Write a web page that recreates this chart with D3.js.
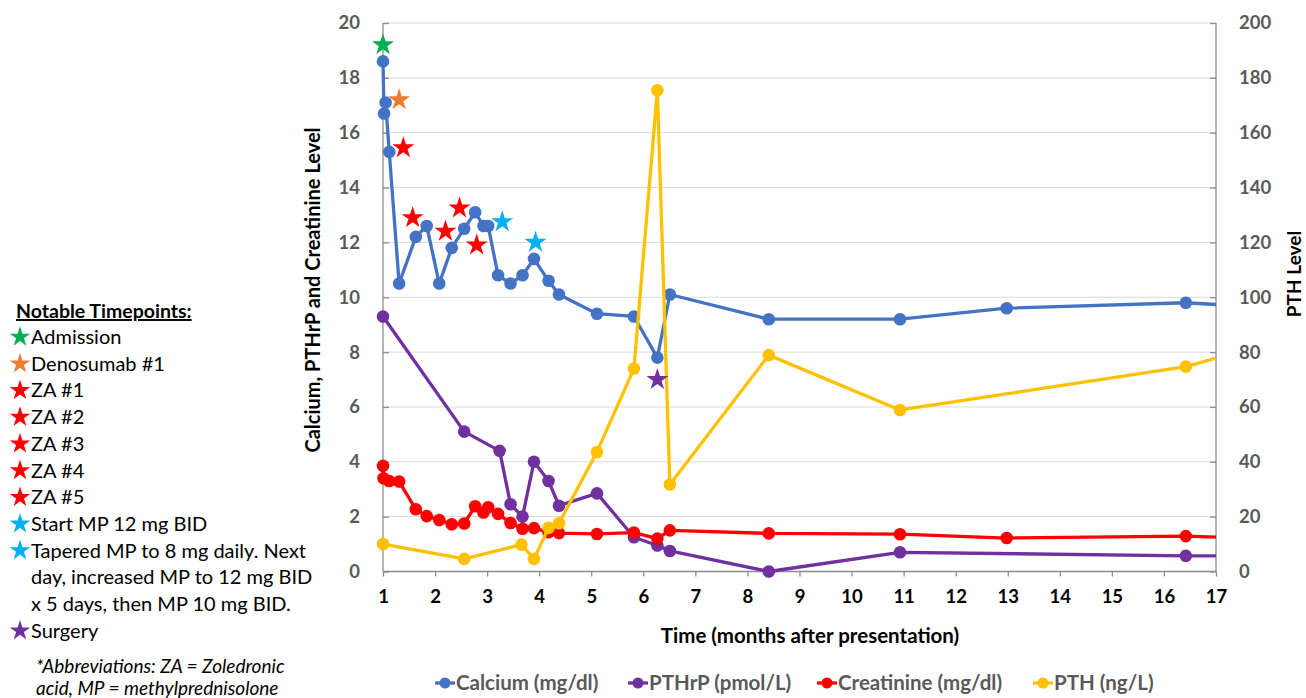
<!DOCTYPE html>
<html>
<head>
<meta charset="utf-8">
<script src="https://cdn.jsdelivr.net/npm/d3@7"></script>
<style>
  html, body { margin: 0; padding: 0; background: #fff; }
  svg { display: block; }
</style>
</head>
<body>
<svg id="chart" width="1306" height="698"></svg>
<script>
// ---------------- DATA ----------------
const calciumX = [1.00, 1.02, 1.05, 1.12, 1.31, 1.63, 1.84, 2.08, 2.32, 2.56, 2.77, 2.93, 3.02, 3.21, 3.45, 3.68, 3.90, 4.18, 4.38, 5.11, 5.82, 6.27, 6.51, 8.41, 10.93, 12.98, 16.42, 17.6];
const calciumY = [18.6, 16.7, 17.1, 15.3, 10.5, 12.2, 12.6, 10.5, 11.8, 12.5, 13.1, 12.6, 12.6, 10.8, 10.5, 10.8, 11.4, 10.6, 10.1, 9.4, 9.3, 7.8, 10.1, 9.2, 9.2, 9.6, 9.8, 9.67];

const pthrpX = [1.00, 2.56, 3.24, 3.45, 3.68, 3.90, 4.18, 4.38, 5.11, 5.82, 6.27, 6.51, 8.41, 10.93, 16.42, 17.6];
const pthrpY = [9.3, 5.1, 4.4, 2.45, 2.0, 4.0, 3.3, 2.4, 2.85, 1.25, 0.95, 0.75, 0, 0.7, 0.57, 0.57];

const creatX = [1.00, 1.01, 1.12, 1.31, 1.63, 1.84, 2.08, 2.32, 2.56, 2.77, 2.93, 3.02, 3.21, 3.45, 3.68, 3.90, 4.18, 4.38, 5.11, 5.82, 6.27, 6.51, 8.41, 10.93, 12.98, 16.42, 17.6];
const creatY = [3.85, 3.4, 3.3, 3.28, 2.27, 2.02, 1.88, 1.72, 1.75, 2.38, 2.15, 2.34, 2.1, 1.77, 1.56, 1.58, 1.43, 1.4, 1.37, 1.42, 1.2, 1.5, 1.39, 1.36, 1.22, 1.29, 1.21];

const pthX = [1.00, 2.56, 3.66, 3.90, 4.18, 4.38, 5.11, 5.82, 6.27, 6.51, 8.41, 10.93, 16.42, 17.6];
const pthY = [10, 4.6, 9.8, 4.6, 15.9, 17.6, 43.6, 74, 175.5, 31.7, 78.9, 58.9, 74.7, 81];

// notable timepoint stars (plotted on left axis)
const starX = [1.00, 1.31, 1.39, 1.57, 2.20, 2.47, 2.80, 3.29, 3.93, 6.27];
const starY = [19.2, 17.2, 15.45, 12.9, 12.4, 13.25, 11.9, 12.75, 12.0, 7.0];
const starType = ["admission", "denosumab", "za", "za", "za", "za", "za", "mp", "mp", "surgery"];

const xTicks = [1,2,3,4,5,6,7,8,9,10,11,12,13,14,15,16,17];
const leftTicks = [0,2,4,6,8,10,12,14,16,18,20];
const rightTicks = [0,20,40,60,80,100,120,140,160,180,200];

const seriesNames = ["Calcium (mg/dl)", "PTHrP (pmol/L)", "Creatinine (mg/dl)", "PTH (ng/L)"];

const noteTypes = ["admission", "denosumab", "za", "za", "za", "za", "za", "mp", "mp", null, null, "surgery"];
const noteTexts = ["Admission", "Denosumab #1", "ZA #1", "ZA #2", "ZA #3", "ZA #4", "ZA #5",
  "Start MP 12 mg BID", "Tapered MP to 8 mg daily. Next", "day, increased MP to 12 mg BID",
  "x 5 days, then MP 10 mg BID.", "Surgery"];
const abbrevLines = ["*Abbreviations: ZA = Zoledronic", "acid, MP = methylprednisolone"];

// ---------------- STYLE ----------------
const seriesColors = ["#4472C4", "#7030A0", "#FF0000", "#FFC000"];
const starColors = { admission: "#00B050", denosumab: "#ED7D31", za: "#FF0000", mp: "#00B0F0", surgery: "#7030A0" };
const FONT = "Lato, 'Open Sans', sans-serif";

const svg = d3.select("#chart");
const plot = { left: 383, right: 1216, top: 23, bottom: 571.5 };

const x = d3.scaleLinear().domain([1, 17]).range([plot.left, plot.right]);
const yL = d3.scaleLinear().domain([0, 20]).range([plot.bottom, plot.top]);
const yR = d3.scaleLinear().domain([0, 200]).range([plot.bottom, plot.top]);

// clip
svg.append("defs").append("clipPath").attr("id", "clip")
  .append("rect").attr("x", plot.left - 10).attr("y", 0)
  .attr("width", plot.right - plot.left + 10).attr("height", plot.bottom + 10);

// gridlines
svg.append("g").selectAll("line").data(leftTicks.filter(d => d > 0)).join("line")
  .attr("x1", plot.left).attr("x2", plot.right)
  .attr("y1", d => yL(d)).attr("y2", d => yL(d))
  .attr("stroke", "#D9D9D9").attr("stroke-width", 1);

// axes
const axisColor = "#8C8C8C";
const gL = svg.append("g").attr("transform", `translate(${plot.left},0)`)
  .call(d3.axisLeft(yL).tickValues(leftTicks).tickSize(-6).tickPadding(23).tickFormat(d3.format("d")));
const gR = svg.append("g").attr("transform", `translate(${plot.right},0)`)
  .call(d3.axisRight(yR).tickValues(rightTicks).tickSize(-6).tickPadding(30).tickFormat(d3.format("d")));
const gX = svg.append("g").attr("transform", `translate(0,${plot.bottom})`)
  .call(d3.axisBottom(x).tickValues(xTicks).tickSize(5).tickPadding(13).tickFormat(d3.format("d")));

[gL, gR, gX].forEach(g => {
  g.select(".domain").attr("stroke", axisColor).attr("stroke-width", 1.3);
  g.selectAll(".tick line").attr("stroke", axisColor).attr("stroke-width", 1.3);
  g.selectAll(".tick text").attr("font-family", FONT).attr("font-weight", "bold").attr("font-size", 18.5);
});
gL.select(".domain").attr("d", `M0,${plot.top}V${plot.bottom}`);
gR.select(".domain").attr("d", `M0,${plot.top}V${plot.bottom}`);
gX.select(".domain").attr("d", `M${plot.left},0H${plot.right}`);
gL.selectAll(".tick text").attr("fill", "#595959");
gR.selectAll(".tick text").attr("fill", "#595959").attr("text-anchor", "start").attr("x", 23);
gX.selectAll(".tick text").attr("fill", "#000");

// axis titles
svg.append("text")
  .attr("transform", `translate(320,290) rotate(-90)`)
  .attr("text-anchor", "middle").attr("font-family", FONT).attr("font-weight", "bold")
  .attr("font-size", 20).attr("fill", "#000")
  .text("Calcium, PTHrP and Creatinine Level");
svg.append("text")
  .attr("transform", `translate(1301,274) rotate(-90)`)
  .attr("text-anchor", "middle").attr("font-family", FONT).attr("font-weight", "bold")
  .attr("font-size", 19).attr("fill", "#000")
  .text("PTH Level");
svg.append("text")
  .attr("x", 810).attr("y", 643)
  .attr("text-anchor", "middle").attr("font-family", FONT).attr("font-weight", "bold")
  .attr("font-size", 20.5).attr("fill", "#000")
  .text("Time (months after presentation)");

// series
const series = [
  { xs: calciumX, ys: calciumY, scale: yL },
  { xs: pthrpX, ys: pthrpY, scale: yL },
  { xs: creatX, ys: creatY, scale: yL },
  { xs: pthX, ys: pthY, scale: yR }
];
const gS = svg.append("g").attr("clip-path", "url(#clip)");
series.forEach((s, i) => {
  const pts = s.xs.map((v, k) => [v, s.ys[k]]);
  const line = d3.line().x(d => x(d[0])).y(d => s.scale(d[1]));
  const g = gS.append("g");
  g.append("path").datum(pts).attr("d", line)
    .attr("fill", "none").attr("stroke", seriesColors[i]).attr("stroke-width", 3.3)
    .attr("stroke-linejoin", "round");
  g.selectAll("circle").data(pts.filter(d => d[0] <= 17)).join("circle")
    .attr("cx", d => x(d[0])).attr("cy", d => s.scale(d[1])).attr("r", 6.3)
    .attr("fill", seriesColors[i]);
});

// stars
const star = d3.symbol().type(d3.symbolStar).size(150);
svg.append("g").selectAll("path").data(starX.map((v, i) => [v, starY[i], starType[i]])).join("path")
  .attr("d", star)
  .attr("transform", d => `translate(${x(d[0])},${yL(d[1])})`)
  .attr("fill", d => starColors[d[2]]);

// bottom legend
const legendItems = [
  { x: 435, tx: 456 },
  { x: 628, tx: 649 },
  { x: 817, tx: 838 },
  { x: 1033, tx: 1054 }
];
const gLeg = svg.append("g");
seriesNames.forEach((name, i) => {
  const it = legendItems[i];
  gLeg.append("line").attr("x1", it.x).attr("x2", it.x + 20).attr("y1", 683).attr("y2", 683)
    .attr("stroke", seriesColors[i]).attr("stroke-width", 3.3);
  gLeg.append("circle").attr("cx", it.x + 10).attr("cy", 683).attr("r", 5.5).attr("fill", seriesColors[i]);
  gLeg.append("text").attr("x", it.tx).attr("y", 690)
    .attr("font-family", FONT).attr("font-weight", "bold").attr("font-size", 20.5).attr("fill", "#595959")
    .text(name);
});

// notable timepoints panel
const gN = svg.append("g");
gN.append("text").attr("x", 16).attr("y", 318)
  .attr("font-family", FONT).attr("font-weight", "bold").attr("font-size", 19.5).attr("fill", "#000")
  .attr("text-decoration", "underline")
  .text("Notable Timepoints:");
const starSmall = d3.symbol().type(d3.symbolStar).size(130);
noteTexts.forEach((t, i) => {
  const yb = 344 + i * 26.7;
  if (noteTypes[i]) {
    gN.append("path").attr("d", starSmall)
      .attr("transform", `translate(20,${yb - 7})`).attr("fill", starColors[noteTypes[i]]);
  }
  gN.append("text").attr("x", 31).attr("y", yb)
    .attr("font-family", FONT).attr("font-size", 20).attr("fill", "#000").text(t);
});
abbrevLines.forEach((t, i) => {
  gN.append("text").attr("x", 36).attr("y", 673 + i * 22)
    .attr("font-family", FONT).attr("font-style", "italic").attr("font-size", 19).attr("fill", "#000").text(t);
});
</script>
</body>
</html>
